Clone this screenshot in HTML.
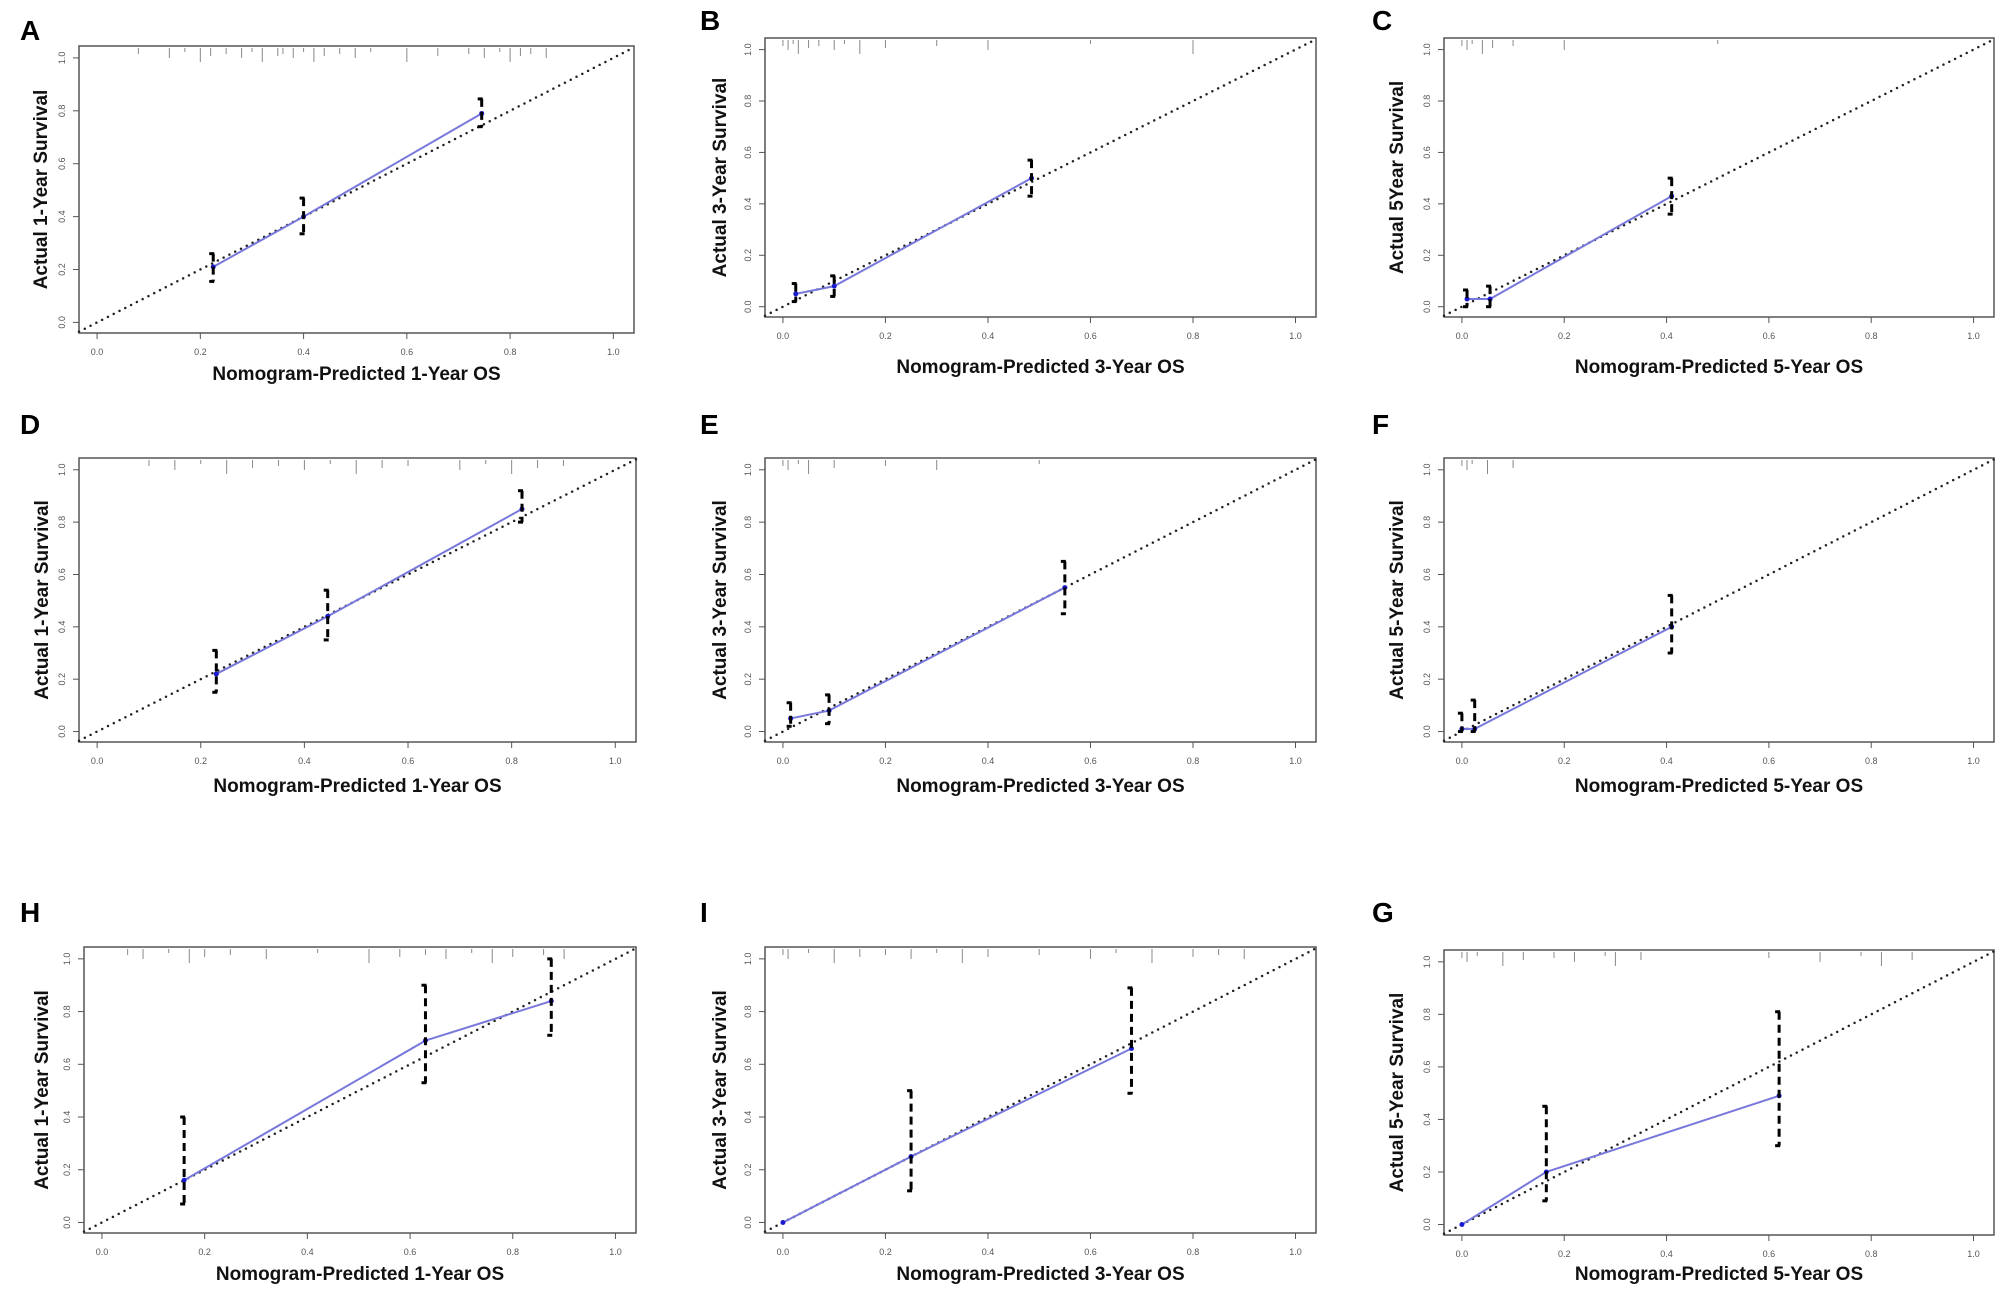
<!DOCTYPE html>
<html><head><meta charset="utf-8">
<style>
html,body{margin:0;padding:0;background:#fff;}
svg{display:block;}
text{font-family:"Liberation Sans",sans-serif;}
</style></head>
<body>
<svg id="fig" width="2008" height="1296" viewBox="0 0 2008 1296" xmlns="http://www.w3.org/2000/svg"></svg>
<script>
// ---- data ----
const panelIds = ['A','B','C','D','E','F','H','I','G'];
const predA = [0.225,0.40,0.745]; const obsA = [0.21,0.40,0.79]; const loA=[0.155,0.335,0.74]; const hiA=[0.26,0.47,0.845];
const predB = [0.025,0.10,0.485]; const obsB = [0.05,0.08,0.50]; const loB=[0.02,0.04,0.43]; const hiB=[0.09,0.12,0.57];
const predC = [0.01,0.055,0.41]; const obsC = [0.03,0.03,0.43]; const loC=[0.0,0.0,0.36]; const hiC=[0.065,0.08,0.50];
const predD = [0.23,0.445,0.82]; const obsD = [0.22,0.44,0.85]; const loD=[0.15,0.35,0.80]; const hiD=[0.31,0.54,0.92];
const predE = [0.015,0.09,0.55]; const obsE = [0.05,0.08,0.55]; const loE=[0.02,0.03,0.45]; const hiE=[0.11,0.14,0.65];
const predF = [0.0,0.025,0.41]; const obsF = [0.01,0.01,0.40]; const loF=[0.0,0.0,0.30]; const hiF=[0.07,0.12,0.52];
const predH = [0.16,0.63,0.875]; const obsH = [0.16,0.69,0.84]; const loH=[0.07,0.53,0.71]; const hiH=[0.40,0.90,1.0];
const predI = [0.0,0.25,0.68]; const obsI = [0.0,0.25,0.66]; const loI=[null,0.12,0.49]; const hiI=[null,0.50,0.89];
const predG = [0.0,0.165,0.62]; const obsG = [0.0,0.20,0.49]; const loG=[null,0.09,0.30]; const hiG=[null,0.45,0.81];
const rugA = [0.08,0.14,0.17,0.2,0.22,0.25,0.28,0.3,0.32,0.35,0.36,0.38,0.4,0.42,0.44,0.47,0.5,0.53,0.6,0.66,0.72,0.75,0.78,0.8,0.82,0.84,0.87];
const rugB = [0.0,0.01,0.02,0.03,0.05,0.07,0.1,0.12,0.15,0.2,0.3,0.4,0.6,0.8];
const rugC = [0.0,0.01,0.02,0.04,0.06,0.1,0.2,0.5];
const rugD = [0.1,0.15,0.2,0.25,0.3,0.35,0.4,0.45,0.5,0.55,0.6,0.7,0.75,0.8,0.85,0.9];
const rugE = [0.0,0.01,0.03,0.05,0.1,0.2,0.3,0.5];
const rugF = [0.0,0.01,0.02,0.05,0.1];
const rugH = [0.05,0.08,0.13,0.17,0.2,0.25,0.32,0.42,0.52,0.58,0.63,0.67,0.72,0.76,0.8,0.86,0.9];
const rugI = [0.0,0.01,0.05,0.1,0.15,0.2,0.25,0.3,0.35,0.4,0.5,0.6,0.65,0.72,0.8,0.85,0.9];
const rugG = [0.0,0.01,0.03,0.08,0.12,0.18,0.22,0.28,0.3,0.35,0.6,0.7,0.78,0.82,0.88];
const xTicks = ['0.0','0.2','0.4','0.6','0.8','1.0'];
const xTitles = ['Nomogram-Predicted 1-Year OS','Nomogram-Predicted 3-Year OS','Nomogram-Predicted 5-Year OS','Nomogram-Predicted 1-Year OS','Nomogram-Predicted 3-Year OS','Nomogram-Predicted 5-Year OS','Nomogram-Predicted 1-Year OS','Nomogram-Predicted 3-Year OS','Nomogram-Predicted 5-Year OS'];
const yTitles = ['Actual 1-Year Survival','Actual 3-Year Survival','Actual 5Year Survival','Actual 1-Year Survival','Actual 3-Year Survival','Actual 5-Year Survival','Actual 1-Year Survival','Actual 3-Year Survival','Actual 5-Year Survival'];
const preds=[predA,predB,predC,predD,predE,predF,predH,predI,predG];
const obss=[obsA,obsB,obsC,obsD,obsE,obsF,obsH,obsI,obsG];
const los=[loA,loB,loC,loD,loE,loF,loH,loI,loG];
const his=[hiA,hiB,hiC,hiD,hiE,hiF,hiH,hiI,hiG];
const rugs=[rugA,rugB,rugC,rugD,rugE,rugF,rugH,rugI,rugG];

// ---- layout ----
const frames=[[79,634,46,333],[765,1316,38,317],[1444,1994,38,317],
              [79,636,458,742],[765,1316,458,742],[1444,1994,458,742],
              [84,636,947,1233],[765,1316,947,1233],[1444,1994,950,1235]];
const letterPos=[[20,40],[700,30],[1372,30],[20,434],[700,434],[1372,434],[20,922],[700,922],[1372,922]];
const xTitleY=[380,373,373,792,792,792,1280,1280,1280];
const yTitleX=[47,726,1403,48,726,1403,48,726,1403];
const XMIN=-0.035,XMAX=1.04,YMIN=-0.04,YMAX=1.045;
const NS='http://www.w3.org/2000/svg';
const svg=document.getElementById('fig');
function mk(tag,attrs,parent){const e=document.createElementNS(NS,tag);for(const k in attrs)e.setAttribute(k,attrs[k]);(parent||svg).appendChild(e);return e;}

panelIds.forEach((id,i)=>{
  const [l,r,t,b]=frames[i];
  const sx=v=>l+(v-XMIN)/(XMAX-XMIN)*(r-l);
  const sy=v=>b-(v-YMIN)/(YMAX-YMIN)*(b-t);
  const g=mk('g',{});
  
  
  const lt=mk('text',{x:letterPos[i][0],y:letterPos[i][1],'font-size':28,'font-weight':'bold',fill:'#000'},g);
  lt.textContent=id;
  
  
  const fr=mk('rect',{x:l,y:t,width:r-l,height:b-t,fill:'none',stroke:'#555','stroke-width':1.5},g);
  
  
  xTicks.forEach((lab,k)=>{
    const v=parseFloat(lab),x=sx(v);
    mk('line',{x1:x,y1:b,x2:x,y2:b+6,stroke:'#555','stroke-width':1},g);
    const tx=mk('text',{x:x,y:b+22,'font-size':9,'text-anchor':'middle',fill:'#555'},g);
    tx.textContent=lab;
    
    
    const y=sy(v);
    mk('line',{x1:l,y1:y,x2:l-6,y2:y,stroke:'#555','stroke-width':1},g);
    const ty=mk('text',{x:l-14,y:y,'font-size':9,'text-anchor':'middle',fill:'#555',transform:`rotate(-90 ${l-14} ${y})`},g);
    ty.textContent=lab;
    
    
  });
  rugs[i].forEach((v,k)=>{
    const len=[6,10,4,14,8][k%5];
    mk('line',{x1:sx(v),y1:t+2,x2:sx(v),y2:t+2+len,stroke:'#888','stroke-width':1},g);
  });
  const dg=mk('line',{x1:sx(XMIN),y1:sy(XMIN),x2:sx(1.04),y2:sy(1.04),stroke:'#222','stroke-width':2.5,'stroke-dasharray':'0 6.5','stroke-linecap':'round'},g);
  
  
  const pts=preds[i].map((p,k)=>sx(p)+','+sy(obss[i][k])).join(' ');
  const pl=mk('polyline',{points:pts,fill:'none',stroke:'#7878dc','stroke-width':2},g);
  
  
  preds[i].forEach((p,k)=>{
    const lo=los[i][k],hi=his[i][k];
    const x=sx(p);
    mk('circle',{cx:x,cy:sy(obss[i][k]),r:2.5,fill:'#1a1ad0'},g);
    if(lo===null) return;
    const eb=mk('line',{x1:x,y1:sy(hi),x2:x,y2:sy(lo),stroke:'#000','stroke-width':3,'stroke-dasharray':'8 5'},g);
    
    
    mk('line',{x1:x-4,y1:sy(hi),x2:x+1,y2:sy(hi),stroke:'#000','stroke-width':3},g);
    mk('line',{x1:x-4,y1:sy(lo),x2:x+1,y2:sy(lo),stroke:'#000','stroke-width':3},g);
  });
  const xt=mk('text',{x:(l+r)/2,y:xTitleY[i],'font-size':19,'font-weight':'bold','text-anchor':'middle',fill:'#111'},g);
  xt.textContent=xTitles[i];
  
  
  const yc=(t+b)/2, yx=yTitleX[i];
  const yt=mk('text',{x:yx,y:yc,'font-size':19,'font-weight':'bold','text-anchor':'middle',fill:'#111',transform:`rotate(-90 ${yx} ${yc})`},g);
  yt.textContent=yTitles[i];
  
  
});
</script>
</body></html>
